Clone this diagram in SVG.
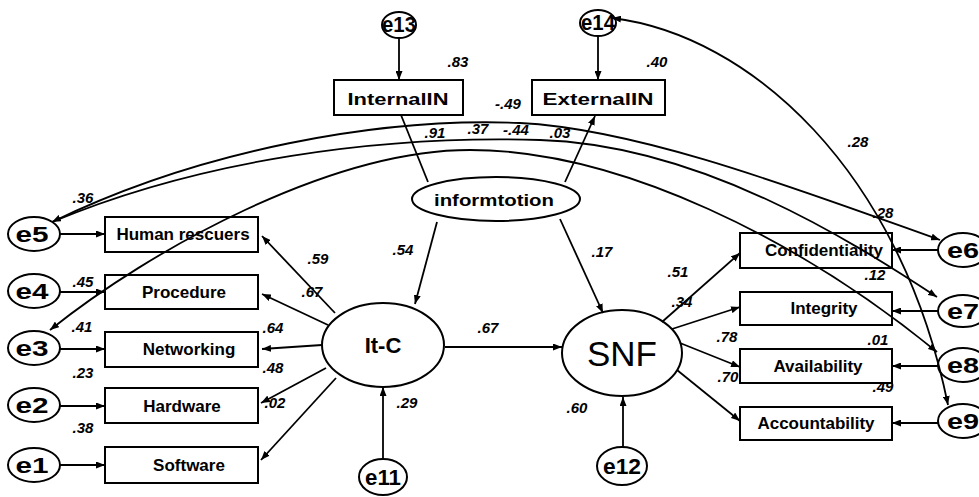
<svg xmlns="http://www.w3.org/2000/svg" width="979" height="497" viewBox="0 0 979 497">
<defs>
<marker id="ah" viewBox="0 0 9 7" refX="9" refY="3.5" markerWidth="9" markerHeight="7" markerUnits="userSpaceOnUse" orient="auto-start-reverse">
<path d="M0,0 L9,3.5 L0,7 z" fill="#000"/>
</marker>
</defs>
<style>
.n{fill:#fff;stroke:#000;stroke-width:2}
.c{fill:none;stroke:#000;stroke-width:1.8}
.a{marker-end:url(#ah)}
.b{marker-start:url(#ah);marker-end:url(#ah)}
.t{font-family:"Liberation Sans",Arial,sans-serif;font-weight:bold;font-size:17px;text-anchor:middle;fill:#000}
.e{font-family:"Liberation Sans",Arial,sans-serif;font-weight:bold;font-size:22px;text-anchor:middle;fill:#000}
.l{font-family:"Liberation Sans",Arial,sans-serif;font-weight:bold;font-style:italic;font-size:15px;text-anchor:middle;fill:#000}
</style>
<rect width="979" height="497" fill="#fff"/>

<g id="e13"><ellipse class="n" cx="399" cy="25" rx="17" ry="13"/><text class="e" x="399" y="32" font-size="20" textLength="34" lengthAdjust="spacingAndGlyphs">e13</text></g>
<g id="e14"><ellipse class="n" cx="598" cy="23" rx="18" ry="13"/><text class="e" x="598" y="30" font-size="20" textLength="34" lengthAdjust="spacingAndGlyphs">e14</text></g>
<g id="InternalIN"><rect class="n" x="334" y="80" width="129" height="35"/><text class="t" x="398" y="105" font-size="20" textLength="101" lengthAdjust="spacingAndGlyphs">InternalIN</text></g>
<g id="ExternalIN"><rect class="n" x="532" y="80" width="133" height="35"/><text class="t" x="598" y="105" font-size="20" textLength="111" lengthAdjust="spacingAndGlyphs">ExternalIN</text></g>
<g id="informtotion"><ellipse class="n" cx="496" cy="199" rx="84" ry="22"/><text class="t" x="494" y="206" font-size="20" textLength="120" lengthAdjust="spacingAndGlyphs">informtotion</text></g>

<g id="HumanRescuers"><rect class="n" x="105" y="217" width="153" height="35"/><text class="t" x="183" y="240">Human rescuers</text></g>
<g id="Procedure"><rect class="n" x="105" y="275" width="153" height="34"/><text class="t" x="184" y="298">Procedure</text></g>
<g id="Networking"><rect class="n" x="105" y="332" width="153" height="35"/><text class="t" x="189" y="355">Networking</text></g>
<g id="Hardware"><rect class="n" x="105" y="388" width="153" height="35"/><text class="t" x="182" y="412">Hardware</text></g>
<g id="Software"><rect class="n" x="105" y="447" width="153" height="36"/><text class="t" x="189" y="471">Software</text></g>

<g id="e5"><ellipse class="n" cx="34" cy="234" rx="26" ry="17"/><text class="e" x="32" y="242" textLength="33" lengthAdjust="spacingAndGlyphs">e5</text></g>
<g id="e4"><ellipse class="n" cx="34" cy="291" rx="26" ry="17"/><text class="e" x="32" y="299" textLength="33" lengthAdjust="spacingAndGlyphs">e4</text></g>
<g id="e3"><ellipse class="n" cx="34" cy="348" rx="26" ry="17"/><text class="e" x="32" y="356" textLength="33" lengthAdjust="spacingAndGlyphs">e3</text></g>
<g id="e2"><ellipse class="n" cx="34" cy="405" rx="26" ry="17"/><text class="e" x="32" y="413" textLength="33" lengthAdjust="spacingAndGlyphs">e2</text></g>
<g id="e1"><ellipse class="n" cx="34" cy="465" rx="26" ry="17"/><text class="e" x="32" y="473" textLength="33" lengthAdjust="spacingAndGlyphs">e1</text></g>

<g id="ItC"><ellipse class="n" cx="383" cy="345" rx="61" ry="42"/><text class="e" x="383" y="353" font-size="24">It-C</text></g>
<g id="e11"><ellipse class="n" cx="383" cy="477" rx="24" ry="18"/><text class="e" x="383" y="485" textLength="36" lengthAdjust="spacingAndGlyphs">e11</text></g>

<g id="SNF"><ellipse class="n" cx="622" cy="353" rx="60" ry="43"/><text x="622" y="366" font-family="Liberation Sans, Arial, sans-serif" font-size="35" text-anchor="middle">SNF</text></g>
<g id="e12"><ellipse class="n" cx="622" cy="466" rx="25" ry="19"/><text class="e" x="622" y="474" textLength="38" lengthAdjust="spacingAndGlyphs">e12</text></g>

<g id="Confidentiality"><rect class="n" x="740" y="233" width="152" height="35"/><text class="t" x="824" y="256">Confidentiality</text></g>
<g id="Integrity"><rect class="n" x="740" y="292" width="152" height="33"/><text class="t" x="824" y="314">Integrity</text></g>
<g id="Availability"><rect class="n" x="740" y="349" width="152" height="34"/><text class="t" x="818" y="372">Availability</text></g>
<g id="Accountability"><rect class="n" x="740" y="407" width="152" height="33"/><text class="t" x="816" y="429">Accountability</text></g>

<g id="e6"><ellipse class="n" cx="963" cy="250" rx="25" ry="17"/><text class="e" x="963" y="258" textLength="32" lengthAdjust="spacingAndGlyphs">e6</text></g>
<g id="e7"><ellipse class="n" cx="963" cy="311" rx="25" ry="16"/><text class="e" x="963" y="319" textLength="32" lengthAdjust="spacingAndGlyphs">e7</text></g>
<g id="e8"><ellipse class="n" cx="963" cy="365" rx="25" ry="17"/><text class="e" x="963" y="373" textLength="32" lengthAdjust="spacingAndGlyphs">e8</text></g>
<g id="e9"><ellipse class="n" cx="963" cy="421" rx="25" ry="17"/><text class="e" x="963" y="429" textLength="32" lengthAdjust="spacingAndGlyphs">e9</text></g>

<g id="connectors">
<!-- covariance curves -->
<path class="c b" d="M52,222 C200,150 380,117 520,123 C640,129 800,190 940,240"/>
<path class="c" d="M52,222 C200,160 380,135 540,140 C700,145 850,240 937,297" marker-end="url(#ah)"/>
<path class="c b" d="M50,330 C150,250 330,150 470,150 C620,150 800,240 937,352"/>
<path class="c b" d="M612,18 C750,35 900,170 948,405"/>
<!-- error to indicators (top) -->
<line class="c a" x1="399" y1="38" x2="399" y2="80"/>
<line class="c a" x1="598" y1="36" x2="598" y2="80"/>
<!-- information to indicators -->
<line class="c" x1="428" y1="182" x2="401" y2="115"/>
<line class="c a" x1="565" y1="182" x2="595" y2="116"/>
<!-- structural paths -->
<line class="c a" x1="437" y1="222" x2="415" y2="304"/>
<line class="c a" x1="560" y1="219" x2="603" y2="313"/>
<line class="c a" x1="445" y1="347" x2="562" y2="347"/>
<line class="c a" x1="383" y1="459" x2="383" y2="387"/>
<line class="c a" x1="623" y1="447" x2="623" y2="397"/>
<!-- It-C to indicators -->
<line class="c a" x1="335" y1="313" x2="262" y2="236"/>
<line class="c a" x1="328" y1="325" x2="262" y2="294"/>
<line class="c a" x1="322" y1="345" x2="262" y2="349"/>
<line class="c a" x1="326" y1="368" x2="261" y2="403"/>
<line class="c a" x1="336" y1="378" x2="261" y2="460"/>
<!-- SNF to indicators -->
<line class="c a" x1="662" y1="322" x2="740" y2="253"/>
<line class="c a" x1="672" y1="329" x2="740" y2="307"/>
<line class="c a" x1="680" y1="343" x2="740" y2="367"/>
<line class="c a" x1="677" y1="370" x2="740" y2="421"/>
<!-- left errors -->
<line class="c a" x1="60" y1="234" x2="105" y2="234"/>
<line class="c a" x1="60" y1="292" x2="105" y2="292"/>
<line class="c a" x1="60" y1="349" x2="105" y2="349"/>
<line class="c a" x1="60" y1="406" x2="105" y2="406"/>
<line class="c a" x1="60" y1="465" x2="105" y2="465"/>
<!-- right errors -->
<line class="c a" x1="938" y1="250" x2="892" y2="250"/>
<line class="c a" x1="938" y1="311" x2="892" y2="311"/>
<line class="c a" x1="938" y1="366" x2="892" y2="366"/>
<line class="c a" x1="938" y1="423" x2="892" y2="423"/>
</g>

<g id="labels">
<text class="l" x="458" y="67">.83</text>
<text class="l" x="657" y="67">.40</text>
<text class="l" x="508" y="109">-.49</text>
<text class="l" x="435" y="138">.91</text>
<text class="l" x="478" y="134">.37</text>
<text class="l" x="516" y="135">-.44</text>
<text class="l" x="560" y="138">.03</text>
<text class="l" x="858" y="147">.28</text>
<text class="l" x="83" y="203">.36</text>
<text class="l" x="318" y="264">.59</text>
<text class="l" x="403" y="255">.54</text>
<text class="l" x="312" y="297">.67</text>
<text class="l" x="83" y="287">.45</text>
<text class="l" x="82" y="332">.41</text>
<text class="l" x="273" y="333">.64</text>
<text class="l" x="273" y="373">.48</text>
<text class="l" x="83" y="378">.23</text>
<text class="l" x="275" y="408">.02</text>
<text class="l" x="407" y="408">.29</text>
<text class="l" x="83" y="433">.38</text>
<text class="l" x="488" y="333">.67</text>
<text class="l" x="602" y="257">.17</text>
<text class="l" x="678" y="277">.51</text>
<text class="l" x="682" y="307">.34</text>
<text class="l" x="727" y="342">.78</text>
<text class="l" x="728" y="382">.70</text>
<text class="l" x="577" y="413">.60</text>
<text class="l" x="883" y="218">.28</text>
<text class="l" x="875" y="280">.12</text>
<text class="l" x="878" y="345">.01</text>
<text class="l" x="883" y="392">.49</text>
</g>
</svg>
